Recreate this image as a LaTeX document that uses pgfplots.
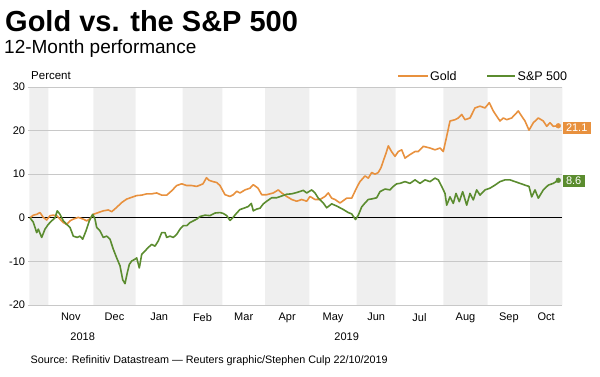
\documentclass[border=0pt]{standalone}
\usepackage{fontspec}
\setmainfont{Liberation Sans}
\usepackage{pgfplots}
\pgfplotsset{compat=1.18}
\definecolor{goldc}{RGB}{232,145,62}
\definecolor{spc}{RGB}{91,140,47}
\definecolor{bandc}{RGB}{239,239,239}
\definecolor{gridc}{RGB}{200,200,200}
\begin{document}
\begin{tikzpicture}
\path[use as bounding box] (0pt,0pt) rectangle (600pt,-376pt);
\node[anchor=base west, font=\bfseries\fontsize{29}{30}\selectfont, inner sep=0] at (5pt,-31.5pt) {Gold vs. the S\&P 500};
\node[anchor=base west, font=\fontsize{19}{20}\selectfont, inner sep=0] at (4pt,-53.5pt) {12-Month performance};
\node[anchor=west, font=\fontsize{11.5}{12}\selectfont, inner sep=0] at (31pt,-75.5pt) {Percent};
\begin{axis}[
  at={(29.3pt,-305pt)}, anchor=south west,
  scale only axis, width=533pt, height=218pt,
  xmin=29.3, xmax=562.3, ymin=-20, ymax=30,
  axis line style={draw=none},
  ytick={-20,-10,0,10,20,30},
  major tick length=0pt,
  xtick={70.8,114.5,159.2,202.5,243.7,287.2,333,376.2,419.5,465.5,508.9,546.2},
  xticklabels={Nov,Dec,Jan,Feb,Mar,Apr,May,Jun,Jul,Aug,Sep,Oct},
  ticklabel style={font=\fontsize{11}{12}\selectfont},
  /pgf/number format/assume math mode=true,
  yticklabel style={inner sep=0pt, xshift=-4pt},
  xticklabel style={inner sep=0pt, yshift=-8pt},
  clip=false,
]
\addplot[draw=none, fill=bandc, forget plot] coordinates {(29.3,-20)(48.3,-20)(48.3,30)(29.3,30)(29.3,-20)};
\addplot[draw=none, fill=bandc, forget plot] coordinates {(93.3,-20)(135.7,-20)(135.7,30)(93.3,30)(93.3,-20)};
\addplot[draw=none, fill=bandc, forget plot] coordinates {(182.7,-20)(222.3,-20)(222.3,30)(182.7,30)(182.7,-20)};
\addplot[draw=none, fill=bandc, forget plot] coordinates {(265,-20)(309.3,-20)(309.3,30)(265,30)(265,-20)};
\addplot[draw=none, fill=bandc, forget plot] coordinates {(356.7,-20)(395.7,-20)(395.7,30)(356.7,30)(356.7,-20)};
\addplot[draw=none, fill=bandc, forget plot] coordinates {(443.3,-20)(487.7,-20)(487.7,30)(443.3,30)(443.3,-20)};
\addplot[draw=none, fill=bandc, forget plot] coordinates {(530,-20)(562.3,-20)(562.3,30)(530,30)(530,-20)};
\addplot[gridc, line width=0.8pt, forget plot] coordinates {(28,30)(562.3,30)};
\addplot[gridc, line width=0.8pt, forget plot] coordinates {(28,20)(562.3,20)};
\addplot[gridc, line width=0.8pt, forget plot] coordinates {(28,10)(562.3,10)};
\addplot[gridc, line width=0.8pt, forget plot] coordinates {(28,-10)(562.3,-10)};
\addplot[gridc, line width=0.8pt, forget plot] coordinates {(28,-20)(562.3,-20)};
\addplot[black, line width=0.9pt, forget plot] coordinates {(28,0)(562.3,0)};
% Gold
\addplot[goldc, line width=1.6pt, line join=round] coordinates {
(30,0)(33.3,0.6)(36.7,0.8)(40,1.2)(43.3,0.1)(46.7,-0.5)(50,0.5)(53.3,0.6)(56.7,0.5)(60,-0.3)(63.3,-1.1)(66.7,-1.5)(70,-0.7)(73.3,-0.3)(78.3,0.1)(83.3,-0.3)(86.7,-0.7)(90,-0.2)(93.3,0.8)(98.3,1.2)(103.3,1.6)(108.3,1.8)(111.7,1.4)(116.7,2.4)(121.7,3.5)(126.7,4.3)(131.7,4.7)(136.7,5.1)(141.7,5.2)(146.7,5.5)(151.7,5.5)(156.7,5.7)(161.7,5.2)(166.7,5.2)(171.7,6.2)(176.7,7.4)(181.7,7.8)(186.7,7.4)(191.7,7.4)(196.7,7.2)(200,7.5)(203,7.8)(206.5,9.2)(209,8.6)(213,8.3)(216.7,8.1)(220,7.4)(225,5.3)(230,4.9)(233.3,5.3)(236.7,6.1)(240,5.7)(245,6.4)(250,6.8)(253.3,7.6)(258,6.8)(261.7,5.3)(266.7,5.3)(273.3,5.7)(278.3,6.4)(281.7,5.7)(286.7,4.9)(291.7,4.2)(296.7,3.8)(301.7,4.2)(306.7,3.8)(310,4.9)(315,4.2)(320,4.2)(325,4.9)(328.3,5.7)(331.7,4.5)(335,4.2)(340,3.4)(346.7,4.5)(351.7,4.5)(355,6.1)(358,7.5)(360,8.3)(365,9.6)(368.3,9.1)(371.7,10.4)(375,10.0)(378.3,10.4)(381,11.5)(384,13.5)(386,14.8)(388.3,16.5)(391.5,15.2)(395,14.1)(398.3,15.2)(401.7,15.6)(405,13.7)(410,14.5)(415,15.2)(418.3,15.2)(423.3,16.4)(430,16)(435,15.6)(440,16)(443.3,15.2)(446.7,18.7)(450,22.2)(455,22.5)(458.3,22.9)(461.7,23.7)(465,22.5)(470,22.9)(475,25.2)(480,25.6)(485,25.2)(489.3,26.4)(493.3,24.5)(496.7,23.3)(500,22.2)(503.3,22.9)(506.7,22.5)(511.7,22.9)(515,23.7)(518.3,24.5)(521.7,23.3)(525,22.2)(529,20.1)(533.3,21.8)(538.3,22.9)(543.3,22.2)(546.7,21)(550,21.8)(553.3,21)(558.3,21.1)
};
% S&P 500
\addplot[spc, line width=1.6pt, line join=round] coordinates {
(30,0)(33.3,-1)(36.7,-3.4)(38.3,-2.6)(41.7,-4.5)(45,-2.6)(48.3,-1.5)(51.7,-0.7)(55,0)(57.3,1.6)(60,0.8)(63.3,-0.7)(66.7,-1.5)(70,-2.2)(73.3,-4.2)(77.3,-4.5)(80,-4.2)(82.7,-4.9)(86,-3)(89.3,-0.7)(92.7,0.8)(95,-0.3)(96.7,-2.2)(100,-3)(103.3,-4.5)(106.7,-4.2)(110,-4.9)(113.3,-7.2)(116.7,-9.2)(120,-11)(122.7,-14.2)(125,-15.1)(127.3,-12.6)(129.3,-10.7)(131.7,-9.9)(135,-9.5)(136.7,-9.2)(139.3,-11.5)(141.7,-8.4)(145,-7.6)(148.3,-6.8)(151.7,-6.1)(155,-6.5)(158.3,-5.3)(161.7,-3.4)(165,-3.4)(166.7,-4.5)(170,-4.2)(173.3,-4.5)(176.7,-3.8)(180,-2.6)(183.3,-1.8)(186.7,-1.8)(190,-1.1)(193.3,-0.7)(196.7,-0.3)(200,0.3)(205,0.6)(210,0.5)(215,1.1)(220,1.2)(223.3,1)(226.7,0.5)(230,-0.6)(232.7,0)(236.7,1.1)(240,1.9)(245,2.3)(248.3,2.6)(251.3,3.3)(253.3,1.6)(256.7,2)(260,2.2)(263.3,3.2)(266.7,3.8)(271.7,4.6)(276.7,4.6)(281.7,5)(286.7,5.4)(291.7,5.5)(296.7,5.8)(303.3,6.3)(306.7,5.7)(311.7,6.4)(315,5.7)(318.3,4.5)(323.3,3.4)(326.7,2.3)(331.7,3.2)(336.7,2.7)(343.3,1.9)(348.3,1.2)(351.7,0.9)(355.5,-0.4)(358.3,0.6)(361.7,2.5)(365,3.4)(368.3,4.2)(373.3,4.4)(376.7,4.6)(380,6)(385,6.6)(390,6.4)(393.3,7.2)(396.7,7.8)(400,7.9)(405,8.3)(410,7.9)(415,8.7)(420,7.9)(425,8.7)(430,8.3)(435,9.1)(438.3,8.7)(441.7,7.2)(445,5.6)(446.7,2.9)(450,4.8)(453.3,3.3)(456,5.6)(459.3,3.7)(462.7,6)(466.7,2.9)(470,5.6)(473.3,4.1)(476.7,6.4)(480,5.2)(485,6.4)(490,6.8)(495,7.5)(500,8.3)(505,8.7)(510,8.7)(515,8.3)(520,7.9)(525,7.5)(529,7.2)(531.7,4.8)(535,6.4)(538.3,4.5)(543.3,6.4)(548.3,7.5)(553.3,7.9)(558.3,8.6)
};
\addplot[only marks, mark=*, mark size=2.4pt, goldc, forget plot] coordinates {(558.3,21.1)};
\addplot[only marks, mark=*, mark size=2.4pt, spc, forget plot] coordinates {(558.3,8.6)};
\node[fill=goldc, text=white, anchor=west, inner xsep=3.5pt, inner ysep=0pt, minimum height=12.5pt, font=\fontsize{11}{12}\selectfont] at (axis cs:562.3,20.6) {21.1};
\node[fill=spc, text=white, anchor=west, inner xsep=3.5pt, inner ysep=0pt, minimum height=12.5pt, font=\fontsize{11}{12}\selectfont] at (axis cs:562.3,8.4) {8.6};
\end{axis}
\node[font=\fontsize{11}{12}\selectfont] at (82.7pt,-337pt) {2018};
\node[font=\fontsize{11}{12}\selectfont] at (346.7pt,-337pt) {2019};
\draw[goldc, line width=1.6pt] (398pt,-75.7pt) -- (428pt,-75.7pt);
\node[anchor=west, inner sep=0, font=\fontsize{12.5}{13}\selectfont] at (430pt,-75.7pt) {Gold};
\draw[spc, line width=1.6pt] (487pt,-75.7pt) -- (515pt,-75.7pt);
\node[anchor=west, inner sep=0, font=\fontsize{12.5}{13}\selectfont] at (517.5pt,-75.7pt) {S\&P 500};
\node[anchor=west, inner sep=0, font=\fontsize{10.8}{12}\selectfont] at (30.5pt,-361pt) {Source: Refinitiv Datastream — Reuters graphic/Stephen Culp 22/10/2019};
\end{tikzpicture}
\end{document}
